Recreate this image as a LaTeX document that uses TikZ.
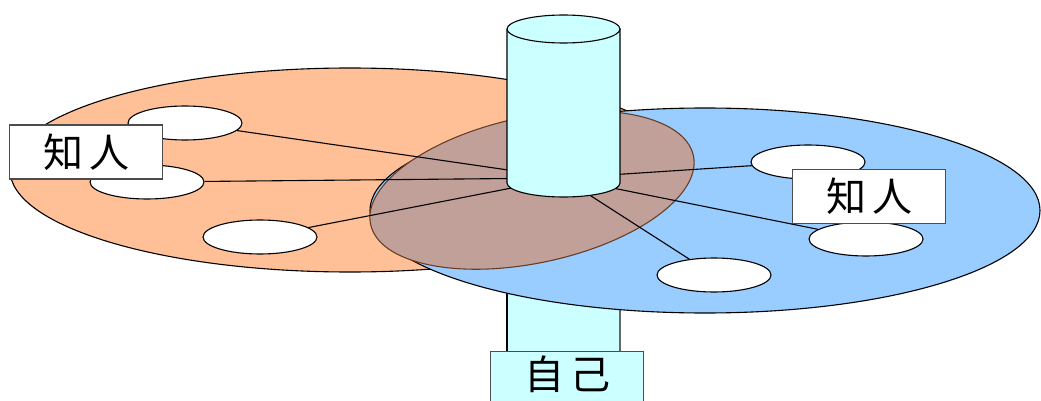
\documentclass[tikz,border=0pt]{standalone}
\usepackage{fontspec}
\newfontfamily\cjk{Noto Sans CJK JP}
\usetikzlibrary{shapes.geometric}
\definecolor{mine}{RGB}{255,192,152}
\definecolor{theirs}{RGB}{153,204,255}
\definecolor{shared}{RGB}{192,160,152}
\definecolor{sharedline}{RGB}{105,62,38}
\definecolor{pillar}{RGB}{204,255,255}
\begin{document}
\begin{tikzpicture}[x=1pt, y=-1pt,
		disk/.style={ellipse, draw, line width=1.1pt, inner sep=0pt},
		friend/.style={ellipse, draw, fill=white, line width=1.1pt, minimum width=114pt, minimum height=34pt, inner sep=0pt},
		tag/.style={draw=black!70, fill=white, line width=1.1pt, minimum width=153pt, minimum height=54pt, inner sep=0pt, font=\cjk\fontsize{40}{40}\selectfont},
		link/.style={draw, line width=1.1pt},
		]
		\useasboundingbox (0,0) rectangle (1041,401);
		% lower end of the pillar, behind the disks
		\fill[pillar] (507,190) rectangle (620,352);
		\draw[line width=1.1pt] (507,190) -- (507,352);
		\draw[line width=1.1pt, black!60] (620,190) -- (620,352);
		% the two circles and their overlap
		\node[disk, fill=mine, minimum width=680pt, minimum height=204pt] (mycircle) at (350,170) {};
		\node[disk, fill=theirs, minimum width=670pt, minimum height=205pt] (othercircle) at (705,210.5) {};
		\node[disk, fill=shared, draw=sharedline, rotate=12, minimum width=330pt, minimum height=146pt] (overlap) at (532,190) {};
		\coordinate (hub) at (563,178);
		\node[friend] (l1) at (185,123) {};
		\node[friend] (l2) at (147,182) {};
		\node[friend] (l3) at (260,237) {};
		\node[friend] (r1) at (808,162) {};
		\node[friend] (r2) at (866,239) {};
		\node[friend] (r3) at (714,275) {};
		\foreach \f in {l1,l2,l3,r1,r2,r3}
			\draw[link] (\f) -- (hub);
		% upper part of the pillar
		\draw[fill=pillar, line width=1.1pt] (507,29) -- (507,183) arc[start angle=180, end angle=0, x radius=56.5, y radius=14] -- (620,29);
		\draw[fill=pillar, line width=1.1pt] (563.5,29) ellipse[x radius=56.5, y radius=14];
		\node[tag] (mytag) at (86,152) {知\hspace{6pt}人};
		\node[tag] (othertag) at (869,196.5) {知\hspace{6pt}人};
		\node[tag, fill=pillar, anchor=north, text height=35pt, text depth=30pt, inner ysep=3pt] (self) at (567,351) {自\hspace{6pt}己};
	\end{tikzpicture}
\end{document}
